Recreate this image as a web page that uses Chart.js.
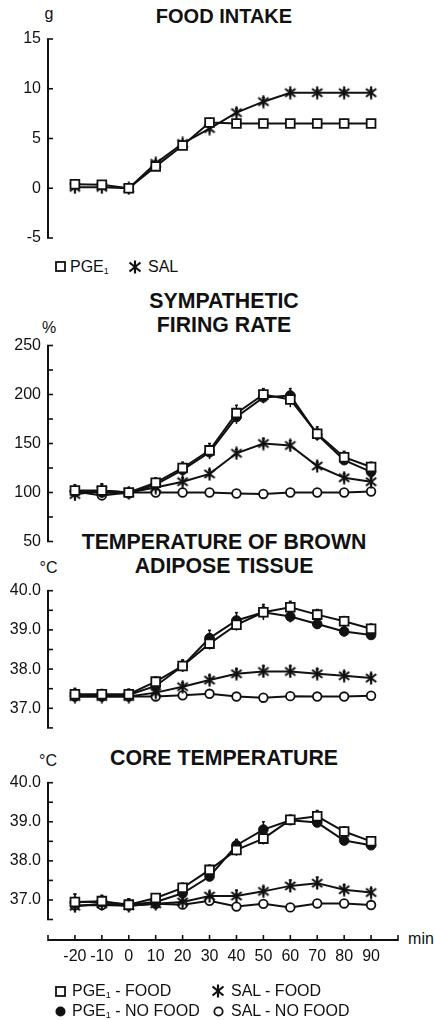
<!DOCTYPE html>
<html><head><meta charset="utf-8">
<script src="https://cdn.jsdelivr.net/npm/chart.js@4.4.1/dist/chart.umd.min.js"></script>
<style>
html,body{margin:0;padding:0;background:#fff;}
body{width:434px;height:1020px;position:relative;overflow:hidden;font-family:"Liberation Sans",Arial,sans-serif;color:#111;}
canvas{position:absolute;left:0;}
.title{position:absolute;left:24px;width:400px;text-align:center;font-weight:bold;font-size:21.3px;line-height:23.5px;white-space:nowrap;}
.unit{position:absolute;font-size:16px;line-height:18px;transform:translate(-50%,-50%);white-space:nowrap;}
.leg{position:absolute;font-size:16px;line-height:20px;height:20px;white-space:nowrap;display:flex;align-items:center;}
.leg svg{display:block;flex:none;}
.leg sub{font-size:9px;vertical-align:-2px;line-height:0;}
</style>
</head><body>

<div class="title" style="top:5px;font-size:20px">FOOD INTAKE</div>
<div class="title" style="top:290px">SYMPATHETIC<br>FIRING RATE</div>
<div class="title" style="top:531px">TEMPERATURE OF BROWN<br>ADIPOSE TISSUE</div>
<div class="title" style="top:747px">CORE TEMPERATURE</div>

<div class="unit" style="left:49px;top:14px">g</div>
<div class="unit" style="left:49px;top:327.5px">%</div>
<div class="unit" style="left:48.5px;top:568px">°C</div>
<div class="unit" style="left:48px;top:761px">°C</div>
<div class="unit" style="left:421px;top:939px">min</div>

<canvas id="c1" width="434" height="250" style="top:0;width:434px;height:250px"></canvas>
<canvas id="c2" width="434" height="250" style="top:300px;width:434px;height:250px"></canvas>
<canvas id="c3" width="434" height="160" style="top:580px;width:434px;height:160px"></canvas>
<canvas id="c4" width="434" height="250" style="top:770px;width:434px;height:250px"></canvas>

<!-- legend panel 1 -->
<div class="leg" style="left:55px;top:256.5px">
  <svg width="11" height="11"><rect x="1" y="1" width="9" height="9" fill="#fff" stroke="#111" stroke-width="1.8"/></svg>
  <span style="margin-left:4px">PGE<sub>1</sub></span>
</div>
<div class="leg" style="left:128px;top:256.5px">
  <svg width="14" height="14"><g stroke="#111" stroke-width="2.2"><line x1="7" y1="0.5" x2="7" y2="13.5"/><line x1="1.5" y1="2.5" x2="12.5" y2="11.5"/><line x1="1.5" y1="11.5" x2="12.5" y2="2.5"/></g></svg>
  <span style="margin-left:6px">SAL</span>
</div>

<!-- legend panel 4 -->
<div class="leg" style="left:55px;top:981px">
  <svg width="11" height="11"><rect x="1" y="1" width="9" height="9" fill="#fff" stroke="#111" stroke-width="1.8"/></svg>
  <span style="margin-left:6px">PGE<sub>1</sub> - FOOD</span>
</div>
<div class="leg" style="left:211px;top:981px">
  <svg width="14" height="14"><g stroke="#111" stroke-width="2.2"><line x1="7" y1="0.5" x2="7" y2="13.5"/><line x1="1.5" y1="2.5" x2="12.5" y2="11.5"/><line x1="1.5" y1="11.5" x2="12.5" y2="2.5"/></g></svg>
  <span style="margin-left:6px">SAL - FOOD</span>
</div>
<div class="leg" style="left:55px;top:1001px">
  <svg width="11" height="11"><circle cx="5.5" cy="5.5" r="5" fill="#111"/></svg>
  <span style="margin-left:6px">PGE<sub>1</sub> - NO FOOD</span>
</div>
<div class="leg" style="left:213px;top:1001px">
  <svg width="11" height="11"><circle cx="5.5" cy="5.5" r="4.2" fill="#fff" stroke="#111" stroke-width="1.8"/></svg>
  <span style="margin-left:7px">SAL - NO FOOD</span>
</div>

<script>
// ---------- DATA ----------
const minutes = [-20, -10, 0, 10, 20, 30, 40, 50, 60, 70, 80, 90];
const xTickValues = [-30, -20, -10, 0, 10, 20, 30, 40, 50, 60, 70, 80, 90, 100];
const xTickLabels = ['', '-20', '-10', '0', '10', '20', '30', '40', '50', '60', '70', '80', '90', ''];

// Food intake (g)
const foodPGE = [0.4, 0.35, 0, 2.2, 4.3, 6.6, 6.5, 6.5, 6.5, 6.5, 6.5, 6.5];
const foodSAL = [0.1, 0.1, 0, 2.5, 4.5, 6.0, 7.6, 8.7, 9.6, 9.6, 9.6, 9.6];
const foodErrPGE = [0.3, 0.3, 0.1, 0.3, 0.3, 0.4, 0.4, 0.4, 0.4, 0.4, 0.4, 0.4];
const foodErrSAL = [0.2, 0.2, 0.1, 0.3, 0.3, 0.4, 0.4, 0.4, 0.3, 0.3, 0.3, 0.3];
const foodTicks = [-5, 0, 5, 10, 15];
const foodTickLabels = ['-5', '0', '5', '10', '15'];

// Sympathetic firing rate (%)
const sfrPGEFood   = [102, 102, 100, 110, 125, 143, 181, 200, 195, 160, 136, 126];
const sfrPGENoFood = [101, 100, 99, 108, 123, 141, 177, 197, 199, 159, 133, 121];
const sfrSALFood   = [98, 102, 100, 105, 111, 119, 140, 150, 148, 127, 115, 111];
const sfrSALNoFood = [101, 97, 100, 100, 100, 100, 99, 98.5, 100, 100, 100, 101];
const sfrErrPGEFood   = [6, 6, 3, 5, 6, 7, 8, 6, 8, 7, 6, 5];
const sfrErrPGENoFood = [5, 5, 3, 4, 6, 7, 7, 6, 7, 6, 5, 5];
const sfrErrSALFood   = [6, 7, 3, 3, 4, 4, 4, 5, 5, 4, 4, 4];
const sfrErrSALNoFood = [2, 2, 2, 2, 2, 2, 2, 2, 2, 2, 2, 2];
const sfrTicks = [50, 75, 100, 125, 150, 175, 200, 225, 250];
const sfrTickLabels = ['50', '', '100', '', '150', '', '200', '', '250'];

// Temperature of brown adipose tissue (°C)
const batPGEFood   = [37.36, 37.36, 37.36, 37.68, 38.08, 38.65, 39.13, 39.45, 39.58, 39.39, 39.22, 39.03];
const batPGENoFood = [37.32, 37.32, 37.34, 37.57, 38.08, 38.79, 39.24, 39.45, 39.34, 39.15, 38.96, 38.87];
const batSALFood   = [37.3, 37.3, 37.3, 37.4, 37.55, 37.72, 37.88, 37.94, 37.94, 37.88, 37.83, 37.77];
const batSALNoFood = [37.3, 37.3, 37.3, 37.3, 37.33, 37.37, 37.3, 37.27, 37.31, 37.3, 37.3, 37.32];
const batErrPGEFood   = [0.15, 0.12, 0.12, 0.12, 0.15, 0.15, 0.15, 0.15, 0.15, 0.13, 0.12, 0.12];
const batErrPGENoFood = [0.15, 0.12, 0.15, 0.12, 0.15, 0.2, 0.2, 0.2, 0.15, 0.12, 0.12, 0.1];
const batErrSALFood   = [0.08, 0.08, 0.08, 0.08, 0.1, 0.12, 0.12, 0.14, 0.14, 0.12, 0.1, 0.1];
const batErrSALNoFood = [0.05, 0.05, 0.05, 0.05, 0.05, 0.05, 0.05, 0.05, 0.05, 0.05, 0.05, 0.05];
const tempTicks = [36.5, 37, 37.5, 38, 38.5, 39, 39.5, 40];
const tempTickLabels = ['', '37.0', '', '38.0', '', '39.0', '', '40.0'];

// Core temperature (°C)
const corePGEFood   = [36.95, 36.97, 36.88, 37.05, 37.31, 37.77, 38.28, 38.57, 39.05, 39.14, 38.75, 38.5];
const corePGENoFood = [36.95, 36.95, 36.88, 36.95, 37.17, 37.6, 38.4, 38.8, 39.04, 38.98, 38.52, 38.4];
const coreSALFood   = [36.84, 36.9, 36.85, 36.9, 36.95, 37.1, 37.1, 37.22, 37.36, 37.43, 37.26, 37.19];
const coreSALNoFood = [36.86, 36.87, 36.85, 36.9, 36.88, 36.98, 36.83, 36.9, 36.81, 36.91, 36.91, 36.87];
const coreErrPGEFood   = [0.2, 0.15, 0.15, 0.1, 0.12, 0.12, 0.15, 0.15, 0.12, 0.15, 0.12, 0.1];
const coreErrPGENoFood = [0.2, 0.15, 0.15, 0.1, 0.12, 0.12, 0.15, 0.2, 0.12, 0.1, 0.1, 0.1];
const coreErrSALFood   = [0.1, 0.1, 0.08, 0.08, 0.08, 0.1, 0.15, 0.12, 0.15, 0.15, 0.12, 0.1];
const coreErrSALNoFood = [0.05, 0.05, 0.05, 0.05, 0.05, 0.05, 0.05, 0.05, 0.05, 0.05, 0.05, 0.05];

// ---------- STYLE HELPERS ----------
const INK = '#111';
const FONT = '"Liberation Sans", Arial, sans-serif';

function makeAsterisk(size, lw) {
  const c = document.createElement('canvas');
  c.width = size; c.height = size;
  const g = c.getContext('2d');
  g.strokeStyle = INK; g.lineWidth = lw;
  const cx = size / 2, cy = size / 2, r = size / 2 - 0.5;
  [90, 38, 142].forEach(a => {
    const t = a * Math.PI / 180;
    g.beginPath();
    g.moveTo(cx - r * Math.cos(t), cy - r * Math.sin(t));
    g.lineTo(cx + r * Math.cos(t), cy + r * Math.sin(t));
    g.stroke();
  });
  return c;
}
const asteriskImg = makeAsterisk(14, 2.2);

const pts = vals => minutes.map((m, i) => ({x: m, y: vals[i]}));

const STY = {
  pgeFood:   {pointStyle: 'rect', pointRadius: 6.2, pointBackgroundColor: '#fff', pointBorderWidth: 1.8},
  pgeNoFood: {pointStyle: 'circle', pointRadius: 4.8, pointBackgroundColor: INK, pointBorderWidth: 1},
  salFood:   {pointStyle: asteriskImg, pointRadius: 6},
  salNoFood: {pointStyle: 'circle', pointRadius: 4.3, pointBackgroundColor: '#fff', pointBorderWidth: 1.8},
};

function ds(label, vals, errs, sty) {
  return Object.assign({
    label, data: pts(vals), errors: errs, borderColor: INK, borderWidth: 2,
    pointBorderColor: INK, tension: 0, clip: false
  }, sty);
}

const axisPlugin = {
  id: 'axes',
  beforeDatasetsDraw(chart, args, opts) {
    const ctx = chart.ctx, ys = chart.scales.y, xs = chart.scales.x;
    const ax = chart.chartArea.left;
    ctx.save();
    ctx.strokeStyle = INK;
    ctx.lineWidth = 2;
    ctx.beginPath();
    ctx.moveTo(ax, ys.getPixelForValue(ys.max));
    ctx.lineTo(ax, ys.getPixelForValue(ys.min));
    ctx.stroke();
    ctx.lineWidth = 1.6;
    ys.ticks.forEach(t => {
      const p = ys.getPixelForValue(t.value);
      ctx.beginPath(); ctx.moveTo(ax - 1, p); ctx.lineTo(ax + 5, p); ctx.stroke();
    });
    if (opts && opts.xAxisOffset != null) {
      const yy = chart.chartArea.bottom + opts.xAxisOffset;
      ctx.lineWidth = 2;
      ctx.beginPath();
      ctx.moveTo(xs.getPixelForValue(xs.min), yy);
      ctx.lineTo(xs.getPixelForValue(xs.max), yy);
      ctx.stroke();
      ctx.lineWidth = 1.6;
      xs.ticks.forEach(t => {
        const p = xs.getPixelForValue(t.value);
        ctx.beginPath(); ctx.moveTo(p, yy + 1); ctx.lineTo(p, yy - 5); ctx.stroke();
      });
    }
    // error bars (drawn beneath markers)
    ctx.lineWidth = 1.5;
    chart.data.datasets.forEach(d => {
      if (!d.errors) return;
      d.data.forEach((p, i) => {
        const e = d.errors[i];
        if (!e) return;
        const px = xs.getPixelForValue(p.x);
        const y1 = ys.getPixelForValue(p.y + e), y2 = ys.getPixelForValue(p.y - e);
        ctx.beginPath(); ctx.moveTo(px, y1); ctx.lineTo(px, y2); ctx.stroke();
        ctx.beginPath(); ctx.moveTo(px - 1.5, y1); ctx.lineTo(px + 1.5, y1); ctx.stroke();
      });
    });
    ctx.restore();
  }
};

function makeChart(id, datasets, yMin, yMax, yTicks, yLabels, padTop, padBottom, showX) {
  const xScale = {
    type: 'linear', min: -30, max: 100, display: !!showX,
    grid: {display: false, drawTicks: false}, border: {display: false},
    afterBuildTicks: s => { s.ticks = xTickValues.map(v => ({value: v})); },
    ticks: {
      autoSkip: false, maxRotation: 0, padding: 27.6, color: INK,
      font: {family: FONT, size: 16},
      callback: (v, i) => xTickLabels[i]
    },
    afterFit: s => { if (showX) { s.height = 50; } s.paddingLeft = 0; s.paddingRight = 0; }
  };
  return new Chart(document.getElementById(id), {
    type: 'line',
    data: {datasets},
    options: {
      responsive: false, animation: false, events: [],
      layout: {padding: {left: 0, right: 36, top: padTop, bottom: padBottom}},
      plugins: {legend: {display: false}, tooltip: {enabled: false}, title: {display: false},
                axes: {xAxisOffset: showX ? 20.5 : null}},
      scales: {
        x: xScale,
        y: {
          type: 'linear', min: yMin, max: yMax,
          grid: {display: false, drawTicks: false}, border: {display: false},
          afterBuildTicks: s => { s.ticks = yTicks.map(v => ({value: v})); },
          ticks: {
            autoSkip: false, padding: 7, color: INK, font: {family: FONT, size: 16},
            callback: (v, i) => yLabels[i]
          },
          afterFit: s => { s.width = 48; s.paddingTop = 0; s.paddingBottom = 0; }
        }
      }
    },
    plugins: [axisPlugin]
  });
}

makeChart('c1', [
  ds('PGE1', foodPGE, foodErrPGE, STY.pgeFood),
  ds('SAL', foodSAL, foodErrSAL, STY.salFood)
], -5, 15, foodTicks, foodTickLabels, 39, 12, false);

makeChart('c2', [
  ds('PGE1 - FOOD', sfrPGEFood, sfrErrPGEFood, STY.pgeFood),
  ds('PGE1 - NO FOOD', sfrPGENoFood, sfrErrPGENoFood, STY.pgeNoFood),
  ds('SAL - FOOD', sfrSALFood, sfrErrSALFood, STY.salFood),
  ds('SAL - NO FOOD', sfrSALNoFood, sfrErrSALNoFood, STY.salNoFood)
], 50, 250, sfrTicks, sfrTickLabels, 45.5, 8.5, false);

makeChart('c3', [
  ds('PGE1 - FOOD', batPGEFood, batErrPGEFood, STY.pgeFood),
  ds('PGE1 - NO FOOD', batPGENoFood, batErrPGENoFood, STY.pgeNoFood),
  ds('SAL - FOOD', batSALFood, batErrSALFood, STY.salFood),
  ds('SAL - NO FOOD', batSALNoFood, batErrSALNoFood, STY.salNoFood)
], 36.5, 40, tempTicks, tempTickLabels, 10.7, 12.1, false);

makeChart('c4', [
  ds('PGE1 - FOOD', corePGEFood, coreErrPGEFood, STY.pgeFood),
  ds('PGE1 - NO FOOD', corePGENoFood, coreErrPGENoFood, STY.pgeNoFood),
  ds('SAL - FOOD', coreSALFood, coreErrSALFood, STY.salFood),
  ds('SAL - NO FOOD', coreSALNoFood, coreErrSALNoFood, STY.salNoFood)
], 36.5, 40, tempTicks, tempTickLabels, 12.7, 50.5, true);
</script>
</body></html>
